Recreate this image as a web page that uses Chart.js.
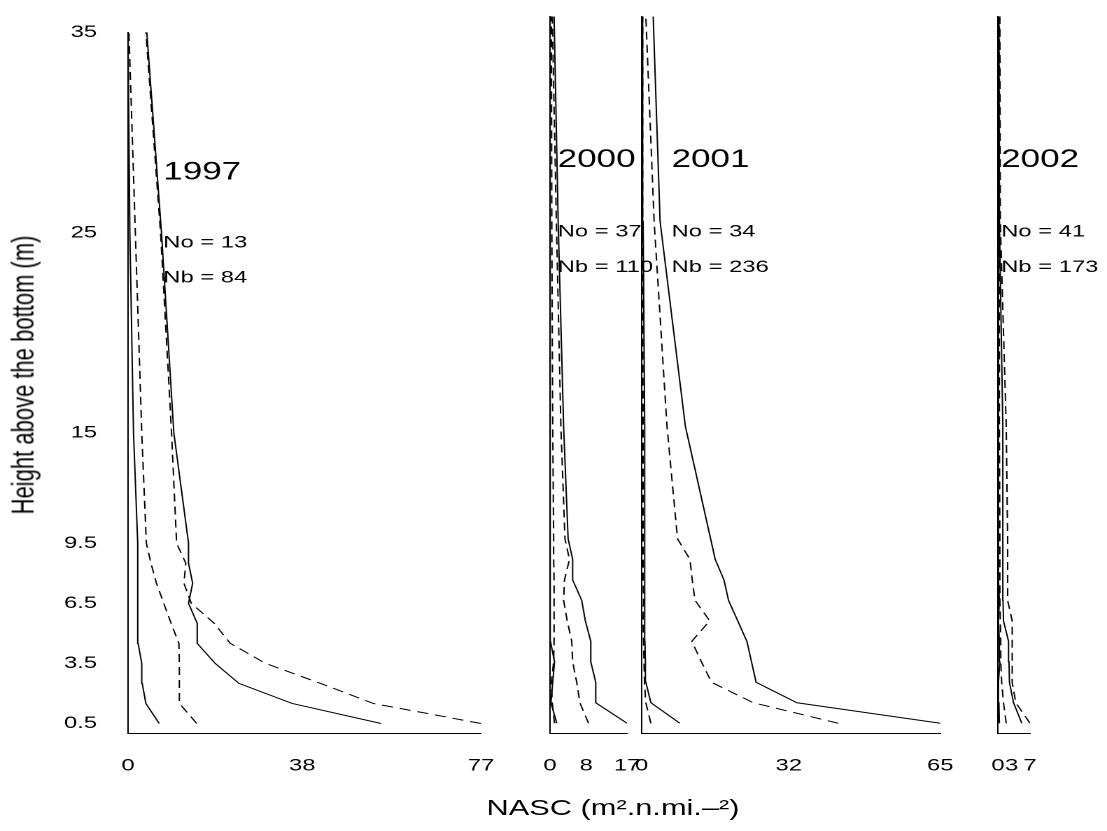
<!DOCTYPE html>
<html>
<head>
<meta charset="utf-8">
<script src="https://cdn.jsdelivr.net/npm/chart.js@4.4.1/dist/chart.umd.min.js"></script>
<style>
  html, body { margin: 0; padding: 0; background: #fff; overflow: hidden; }
  /* the reference is stretched sideways, so draw narrow and scale up */
  #stage { position: absolute; left: 0; top: 0; width: 791px; height: 831px;
           transform: scaleX(1.39949); transform-origin: 0 0; }
  #stage canvas { position: absolute; left: 0; top: 0; }
  .title { position: absolute; font-family: "Liberation Sans", Arial, sans-serif;
           font-size: 22px; line-height: 1; color: #000; white-space: nowrap;
           transform: translate(-50%, -50%); }
  #ytitle { left: 17.1px; top: 375px; transform: translate(-50%, -50%) rotate(-90deg); }
  #xtitle { left: 438px; top: 808px; }
</style>
</head>
<body>
<div id="stage">
  <canvas id="c0" width="791" height="831"></canvas>
  <canvas id="c1" width="791" height="831"></canvas>
  <canvas id="c2" width="791" height="831"></canvas>
  <canvas id="c3" width="791" height="831"></canvas>
  <div class="title" id="ytitle">Height above the bottom (m)</div>
  <div class="title" id="xtitle">NASC (m².n.mi.–²)</div>
</div>
<script>
// data
const heights = [0.5, 1.5, 2.5, 3.5, 4.5, 5.5, 6.5, 7.5, 8.5, 9.5, 15, 25, 35];
const yTicks = [0.5, 3.5, 6.5, 9.5, 15, 25, 35];
const years = ['1997', '2000', '2001', '2002'];
const nObs = [13, 37, 34, 41];
const nB = [84, 110, 236, 173];
const xMax = [77, 17, 65, 7];
const xTicks = [[0, 38, 77], [0, 8, 17], [0, 32, 65], [0, 3, 7]];

const solidLow1997  = [6.8, 3.9, 3.1, 3.0, 2.2, 2.2, 2.15, 2.1, 2.1, 2.05, 1.2, 0.4, 0];
const dashLow1997   = [15.0, 11.2, 11.2, 11.2, 11.1, 9.4, 7.8, 6.2, 5.0, 4.0, 3.0, 1.6, 0.2];
const dashHigh1997  = [77, 53.5, 42, 30, 22.3, 18.8, 13.8, 12.2, 12.6, 10.6, 9.5, 7.1, 3.9];
const solidHigh1997 = [55.2, 35.8, 24.2, 19.0, 15.1, 15.1, 13.2, 14.1, 13.2, 13.2, 10.0, 7.3, 4.1];

const solidLow2000  = [1.5, 0.2, 0.6, 1.0, 0.1, 0.05, 0.05, 0.05, 0.05, 0.05, 0.05, 0.02, 0];
const dashLow2000   = [1.0, 0.5, 0.3, 0.8, 0.9, 0.9, 0.9, 0.9, 0.8, 0.8, 0.6, 0.4, 0.3];
const dashHigh2000  = [8.5, 6.6, 5.9, 5.0, 4.8, 3.8, 3.0, 3.2, 4.3, 3.3, 2.4, 1.4, 0.5];
const solidHigh2000 = [17, 10.1, 10.1, 9.0, 9.0, 7.8, 7.0, 5.0, 5.0, 4.0, 3.0, 1.8, 0.9];

const solidLow2001  = [8.3, 2.0, 0.9, 0.8, 0.7, 0.7, 0.7, 0.7, 0.7, 0.6, 0.5, 0.3, 0.2];
const dashLow2001   = [2.0, 0.9, 0.6, 0.5, 0.4, 0.3, 0.4, 0.3, 0.3, 0.3, 0.3, 0.2, 0.2];
const dashHigh2001  = [42.8, 24.3, 15.2, 13.0, 10.9, 14.8, 11.6, 11.0, 10.5, 7.8, 5.5, 2.7, 0.9];
const solidHigh2001 = [65, 33.8, 24.9, 23.9, 22.9, 20.9, 18.9, 17.9, 16.0, 15.0, 9.5, 4.0, 2.5];

const solidLow2002  = [0.3, 0.2, 0.1, 0.4, 0.3, 0.1, 0.3, 0.1, 0.1, 0.2, 0.1, 0.1, 0];
const dashLow2002   = [1.8, 1.2, 0.8, 0.6, 0.6, 0.5, 0.4, 0.4, 0.4, 0.4, 0.3, 0.3, 0.3];
const dashHigh2002  = [7, 3.9, 3.1, 3.1, 3.1, 3.1, 2.1, 2.1, 2.1, 2.1, 1.8, 0.5, 0.4];
const solidHigh2002 = [5.2, 3.4, 2.5, 2.4, 2.3, 1.2, 1.1, 1.1, 1.1, 1.1, 0.9, 0.3, 0.2];

const panels = [
  [solidLow1997, dashLow1997, dashHigh1997, solidHigh1997],
  [solidLow2000, dashLow2000, dashHigh2000, solidHigh2000],
  [solidLow2001, dashLow2001, dashHigh2001, solidHigh2001],
  [solidLow2002, dashLow2002, dashHigh2002, solidHigh2002]
];

// layout (page pixels)
const S = 1107 / 791;
const W = 791;
const panelLeft = [128, 550, 641.7, 998];
const panelRight = [481, 627, 940.3, 1030];
const plotTop = 16.5, plotBottom = 733.5;
const FONT = '"Liberation Sans", Arial, sans-serif';

Chart.defaults.font.family = FONT;
Chart.defaults.color = '#000';

// year and counts written inside each panel
const panelText = {
  id: 'panelText',
  afterDatasetsDraw(chart, args, opts) {
    const i = opts.index;
    const {ctx, scales: {x, y}} = chart;
    const px = x.getPixelForValue(xMax[i] * 0.1);
    ctx.save();
    ctx.fillStyle = '#000';
    ctx.textAlign = 'left';
    ctx.textBaseline = 'middle';
    ctx.font = '25px ' + FONT;
    ctx.fillText(years[i], px, y.getPixelForValue(28));
    ctx.font = '17px ' + FONT;
    ctx.fillText('No = ' + nObs[i], px, y.getPixelForValue(24.5));
    ctx.fillText('Nb = ' + nB[i], px, y.getPixelForValue(22.75));
    ctx.restore();
  }
};

function makePanel(i) {
  const left = panelLeft[i] / S;
  const right = panelRight[i] / S;
  new Chart(document.getElementById('c' + i), {
    type: 'line',
    data: {
      datasets: panels[i].map((vals, k) => ({
        data: vals.map((v, j) => ({x: v, y: heights[j]})),
        borderColor: '#000',
        borderWidth: 1,
        borderDash: (k === 1 || k === 2) ? [8, 5] : [],
        pointRadius: 0,
        fill: false,
        tension: 0
      }))
    },
    options: {
      responsive: false,
      animation: false,
      devicePixelRatio: 2,
      layout: {padding: {top: plotTop, right: W - right, bottom: 0, left: 0}},
      plugins: {
        legend: {display: false},
        tooltip: {enabled: false},
        panelText: {index: i}
      },
      scales: {
        x: {
          type: 'linear', min: 0, max: xMax[i],
          grid: {display: false, drawTicks: false},
          border: {display: true, color: '#000', width: 1},
          ticks: {font: {size: 17, lineHeight: 1.2}, color: '#000', padding: 22.3,
                  autoSkip: false, maxRotation: 0, callback: v => String(v)},
          afterBuildTicks: s => { s.ticks = xTicks[i].map(v => ({value: v})); },
          afterFit: s => { s.height = 831 - plotBottom; }
        },
        y: {
          type: 'linear', min: 0, max: 35,
          grid: {display: false, drawTicks: false},
          border: {display: true, color: '#000', width: 1},
          ticks: {display: i === 0, font: {size: 17}, color: '#000', padding: 22.1,
                  autoSkip: false, callback: v => String(v)},
          afterBuildTicks: s => { s.ticks = yTicks.map(v => ({value: v})); },
          afterFit: s => { s.width = left; }
        }
      }
    },
    plugins: [panelText]
  });
}

for (let i = 0; i < 4; i++) makePanel(i);
</script>
</body>
</html>
